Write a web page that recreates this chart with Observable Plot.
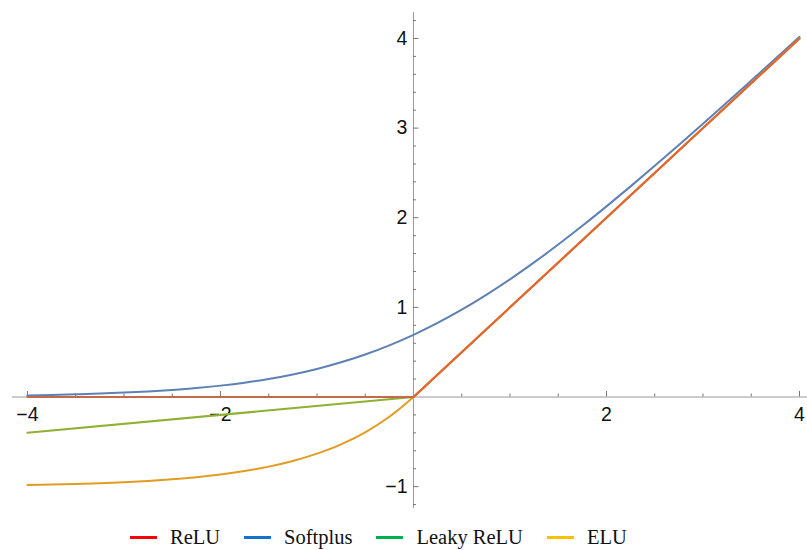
<!DOCTYPE html>
<html>
<head>
<meta charset="utf-8">
<script src="https://cdn.jsdelivr.net/npm/d3@7"></script>
<script src="https://cdn.jsdelivr.net/npm/@observablehq/plot@0.6"></script>
<style>
  html, body { margin: 0; padding: 0; background: #fff; }
  #wrap { position: relative; width: 807px; height: 550px; }
  #legend { position: absolute; left: 130px; top: 526px; display: flex; align-items: center;
            font-family: "Liberation Serif", serif; font-size: 20.5px; color: #111; }
  .item { display: flex; align-items: center; margin-right: 24px; }
  .sw { width: 27px; height: 3.5px; margin-right: 13px; }
</style>
</head>
<body>
<div id="wrap"><div id="chart"></div><div id="legend"></div></div>
<script>
// sampled x positions (curves)
const xs = [-4,-3.75,-3.5,-3.25,-3,-2.75,-2.5,-2.25,-2,-1.75,-1.5,-1.25,-1,-0.75,-0.5,-0.25,0,
            0.25,0.5,0.75,1,1.25,1.5,1.75,2,2.25,2.5,2.75,3,3.25,3.5,3.75,4];
const softplusY = [0.018,0.023,0.030,0.038,0.049,0.062,0.079,0.100,0.127,0.160,0.201,0.252,0.313,0.387,0.474,0.576,0.693,
                   0.826,0.974,1.137,1.313,1.502,1.701,1.910,2.127,2.350,2.579,2.812,3.049,3.288,3.530,3.773,4.018];
const eluY = [-0.982,-0.977,-0.970,-0.961,-0.950,-0.936,-0.918,-0.895,-0.865,-0.826,-0.777,-0.714,-0.632,-0.528,-0.394,-0.221,0,
              0.25,0.5,0.75,1,1.25,1.5,1.75,2,2.25,2.5,2.75,3,3.25,3.5,3.75,4];
// piecewise-linear series (knots)
const knotX = [-4, 0, 4];
const leakyY = [-0.4, 0, 4];
const reluY = [0, 0, 4];

const seriesNames = ["ReLU", "Softplus", "Leaky ReLU", "ELU"];
const lineColors = {"Softplus": "#5e81b5", "ELU": "#e19c24", "Leaky ReLU": "#8fb032", "ReLU": "#eb6235"};
const legendColors = ["#ff0000", "#1474cc", "#00b050", "#ffc000"];

const xMajor = [-4, -2, 2, 4];
const xMajorLabels = ["−4", "−2", "2", "4"];
const xMinor = [-3.5,-3,-2.5,-1.5,-1,-0.5,0.5,1,1.5,2.5,3,3.5];
const yMajor = [-1, 1, 2, 3, 4];
const yMajorLabels = ["−1", "1", "2", "3", "4"];
const yMinor = [-1.2,-0.8,-0.6,-0.4,-0.2,0.2,0.4,0.6,0.8,1.2,1.4,1.6,1.8,2.2,2.4,2.6,2.8,3.2,3.4,3.6,3.8,4.2];

const softplus = xs.map((x, i) => ({x, y: softplusY[i]}));
const elu = xs.map((x, i) => ({x, y: eluY[i]}));
const leaky = knotX.map((x, i) => ({x, y: leakyY[i]}));
const relu = knotX.map((x, i) => ({x, y: reluY[i]}));

const axisColor = "#9a9a9a";
const tickColor = "#777";
const labelFont = "Liberation Sans, Arial, sans-serif";

const chart = Plot.plot({
  width: 807,
  height: 520,
  marginLeft: 12,
  marginRight: 0,
  marginTop: 12,
  marginBottom: 12,
  x: {domain: [-4.155, 4.083], axis: null},
  y: {domain: [-1.244, 4.29], axis: null},
  marks: [
    Plot.ruleY([0], {stroke: axisColor, strokeWidth: 1}),
    Plot.ruleX([0], {stroke: axisColor, strokeWidth: 1}),
    // x ticks (pointing up)
    Plot.ruleX(xMajor, {x: d => d, y1: 0, y2: 0, insetTop: -5.5, stroke: tickColor}),
    Plot.ruleX(xMinor, {x: d => d, y1: 0, y2: 0, insetTop: -3, stroke: tickColor}),
    // y ticks (pointing right)
    Plot.ruleY(yMajor, {y: d => d, x1: 0, x2: 0, insetRight: -5.5, stroke: tickColor}),
    Plot.ruleY(yMinor, {y: d => d, x1: 0, x2: 0, insetRight: -3, stroke: tickColor}),
    Plot.text(xMajor, {x: d => d, y: 0, dy: 18, text: (d, i) => xMajorLabels[i],
      fontSize: 19.5, fontFamily: labelFont, fill: "#111", lineAnchor: "middle"}),
    Plot.text(yMajor, {x: 0, y: d => d, dx: -6, text: (d, i) => yMajorLabels[i],
      fontSize: 19.5, fontFamily: labelFont, fill: "#111", textAnchor: "end", lineAnchor: "middle"}),
    Plot.line(softplus, {x: "x", y: "y", stroke: lineColors["Softplus"], strokeWidth: 2, curve: "monotone-x"}),
    Plot.line(elu, {x: "x", y: "y", stroke: lineColors["ELU"], strokeWidth: 2, curve: "monotone-x"}),
    Plot.line(leaky, {x: "x", y: "y", stroke: lineColors["Leaky ReLU"], strokeWidth: 2}),
    Plot.line(relu, {x: "x", y: "y", stroke: lineColors["ReLU"], strokeWidth: 2}),
    Plot.ruleY([0], {x1: -4, x2: 0, stroke: "#777", strokeOpacity: 0.35, strokeWidth: 2})
  ]
});
document.getElementById("chart").appendChild(chart);

const legend = document.getElementById("legend");
seriesNames.forEach((name, i) => {
  const item = document.createElement("div");
  item.className = "item";
  const sw = document.createElement("div");
  sw.className = "sw";
  sw.style.background = legendColors[i];
  const t = document.createElement("span");
  t.textContent = name;
  item.appendChild(sw);
  item.appendChild(t);
  legend.appendChild(item);
});
</script>
</body>
</html>
